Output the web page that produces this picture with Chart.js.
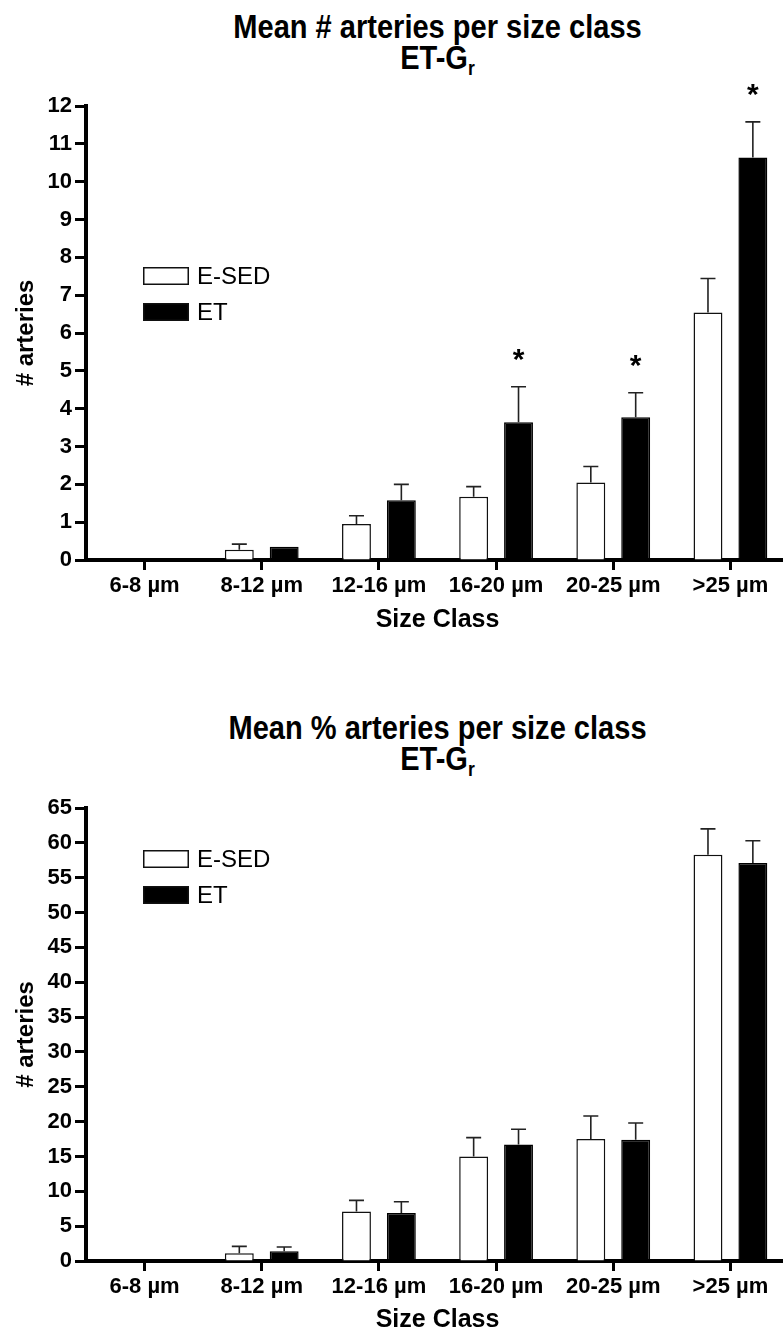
<!DOCTYPE html>
<html>
<head>
<meta charset="utf-8">
<script src="https://cdn.jsdelivr.net/npm/chart.js@4.4.1/dist/chart.umd.min.js"></script>
<style>
  html, body { margin: 0; padding: 0; background: #fff; overflow: hidden; width: 783px; height: 1335px; }
  .titulo {
    position: absolute; left: 0; width: 875px; text-align: center;
    font-family: "Liberation Sans", Arial, sans-serif;
    font-weight: bold; font-size: 33px; line-height: 31px; color: #000;
    transform: scaleX(0.88); transform-origin: 437.5px 0;
  }
  .titulo sub { font-size: 20px; vertical-align: -6px; line-height: 0; }
  canvas { position: absolute; left: 0; }
</style>
</head>
<body>

<div class="titulo" style="top:11px">Mean # arteries per size class<br>ET-G<sub>r</sub></div>
<div class="titulo" style="top:712px">Mean % arteries per size class<br>ET-G<sub>r</sub></div>

<canvas id="chartNumero" width="790" height="650" style="top:0px"></canvas>
<canvas id="chartPorcentaje" width="790" height="685" style="top:650px"></canvas>

<script>
// datos
var categorias = ['6-8 µm', '8-12 µm', '12-16 µm', '16-20 µm', '20-25 µm', '>25 µm'];
var nombresSeries = ['E-SED', 'ET'];

// media de # arterias
var numeroSed = [0, 0.27, 0.95, 1.67, 2.05, 6.54];
var numeroEt = [0, 0.35, 1.58, 3.64, 3.77, 10.64];
// error (SEM, solo hacia arriba)
var numeroSedErr = [0, 0.15, 0.22, 0.27, 0.42, 0.90];
var numeroEtErr = [0, 0, 0.42, 0.94, 0.65, 0.94];
// diferencias significativas (*)
var numeroEtSig = [false, false, false, true, true, true];

// media de % arterias
var porcSed = [0, 1.1, 7.1, 15.0, 17.5, 58.3];
var porcEt = [0, 1.4, 6.9, 16.7, 17.4, 57.1];
var porcSedErr = [0, 1.0, 1.6, 2.7, 3.3, 3.7];
var porcEtErr = [0, 0.6, 1.6, 2.2, 2.4, 3.2];

var fuenteBold = '"Liberation Sans", Arial, sans-serif';

// barras de error + asteriscos
var pluginErrores = {
    id: 'errores',
    afterDatasetsDraw: function (chart) {
        var ctx = chart.ctx;
        var y = chart.scales.y;
        chart.data.datasets.forEach(function (ds, i) {
            var meta = chart.getDatasetMeta(i);
            meta.data.forEach(function (bar, j) {
                var v = ds.data[j];
                var e = ds.errores ? ds.errores[j] : 0;
                var yTop = y.getPixelForValue(v + e);
                if (e > 0) {
                    ctx.save();
                    ctx.strokeStyle = '#222';
                    ctx.lineWidth = 1.6;
                    ctx.beginPath();
                    ctx.moveTo(bar.x, bar.y);
                    ctx.lineTo(bar.x, yTop);
                    ctx.moveTo(bar.x - 7.5, yTop);
                    ctx.lineTo(bar.x + 7.5, yTop);
                    ctx.stroke();
                    ctx.restore();
                }
                if (ds.significativo && ds.significativo[j]) {
                    ctx.save();
                    ctx.fillStyle = '#000';
                    ctx.font = 'bold 30px ' + fuenteBold;
                    ctx.textAlign = 'center';
                    ctx.textBaseline = 'alphabetic';
                    ctx.fillText('*', bar.x, yTop - 18);
                    ctx.restore();
                }
            });
        });
    }
};

// leyenda dentro del area
var pluginLeyenda = {
    id: 'leyendaPropia',
    afterDraw: function (chart, args, opts) {
        var ctx = chart.ctx;
        chart.data.datasets.forEach(function (ds, i) {
            var cy = opts.y + i * 36;
            ctx.save();
            ctx.fillStyle = ds.backgroundColor;
            ctx.fillRect(143, cy - 9, 46, 18);
            ctx.strokeStyle = '#111';
            ctx.lineWidth = 1.5;
            ctx.strokeRect(143.75, cy - 8.25, 44.5, 16.5);
            ctx.fillStyle = '#000';
            ctx.font = '24px ' + fuenteBold;
            ctx.textBaseline = 'middle';
            ctx.fillText(ds.label, 197, cy + 1);
            ctx.restore();
        });
    }
};

var crearGrafico = function (id, sed, sedErr, et, etErr, etSig, maximo, paso, alturaX, padTop, padBottomTitulo, yLeyenda) {
    var ctx = document.getElementById(id).getContext('2d');
    return new Chart(ctx, {
        type: 'bar',
        data: {
            labels: categorias,
            datasets: [
                {
                    label: nombresSeries[0], data: sed, errores: sedErr,
                    backgroundColor: '#ffffff', borderColor: '#111', borderWidth: 1.5,
                    categoryPercentage: 0.766, barPercentage: 0.644
                },
                {
                    label: nombresSeries[1], data: et, errores: etErr, significativo: etSig,
                    backgroundColor: '#000000', borderColor: '#000', borderWidth: 1.5,
                    categoryPercentage: 0.766, barPercentage: 0.644
                }
            ]
        },
        options: {
            responsive: false,
            animation: false,
            layout: { padding: { top: padTop, right: 1, bottom: 0, left: 0 } },
            plugins: {
                legend: { display: false },
                tooltip: { enabled: false },
                leyendaPropia: { y: yLeyenda }
            },
            scales: {
                x: {
                    grid: { offset: false, drawOnChartArea: false, tickLength: 10, tickWidth: 3, tickColor: '#000' },
                    border: { width: 4, color: '#000' },
                    ticks: { color: '#000', padding: 3, font: { family: fuenteBold, size: 22, weight: 'bold' } },
                    title: {
                        display: true, text: 'Size Class', color: '#000',
                        font: { family: fuenteBold, size: 25, weight: 'bold', lineHeight: 1.2 },
                        padding: { top: 0, bottom: padBottomTitulo }
                    },
                    afterFit: function (scale) { scale.height = alturaX; }
                },
                y: {
                    min: 0, max: maximo,
                    grid: { drawOnChartArea: false, tickLength: 11, tickWidth: 3, tickColor: '#000' },
                    border: { width: 4, color: '#000' },
                    ticks: { stepSize: paso, color: '#000', padding: 3, font: { family: fuenteBold, size: 22, weight: 'bold' } },
                    title: {
                        display: true, text: '# arteries', color: '#000',
                        font: { family: fuenteBold, size: 24, weight: 'bold', lineHeight: 1.2 },
                        padding: { top: 12, bottom: 0 }
                    },
                    afterFit: function (scale) { scale.width = 86; }
                }
            }
        },
        plugins: [pluginErrores, pluginLeyenda]
    });
};

crearGrafico('chartNumero', numeroSed, numeroSedErr, numeroEt, numeroEtErr, numeroEtSig, 12, 1, 90, 106, 15, 276);
crearGrafico('chartPorcentaje', porcSed, porcSedErr, porcEt, porcEtErr, null, 65, 5, 74, 158, 0, 209);
</script>
</body>
</html>
